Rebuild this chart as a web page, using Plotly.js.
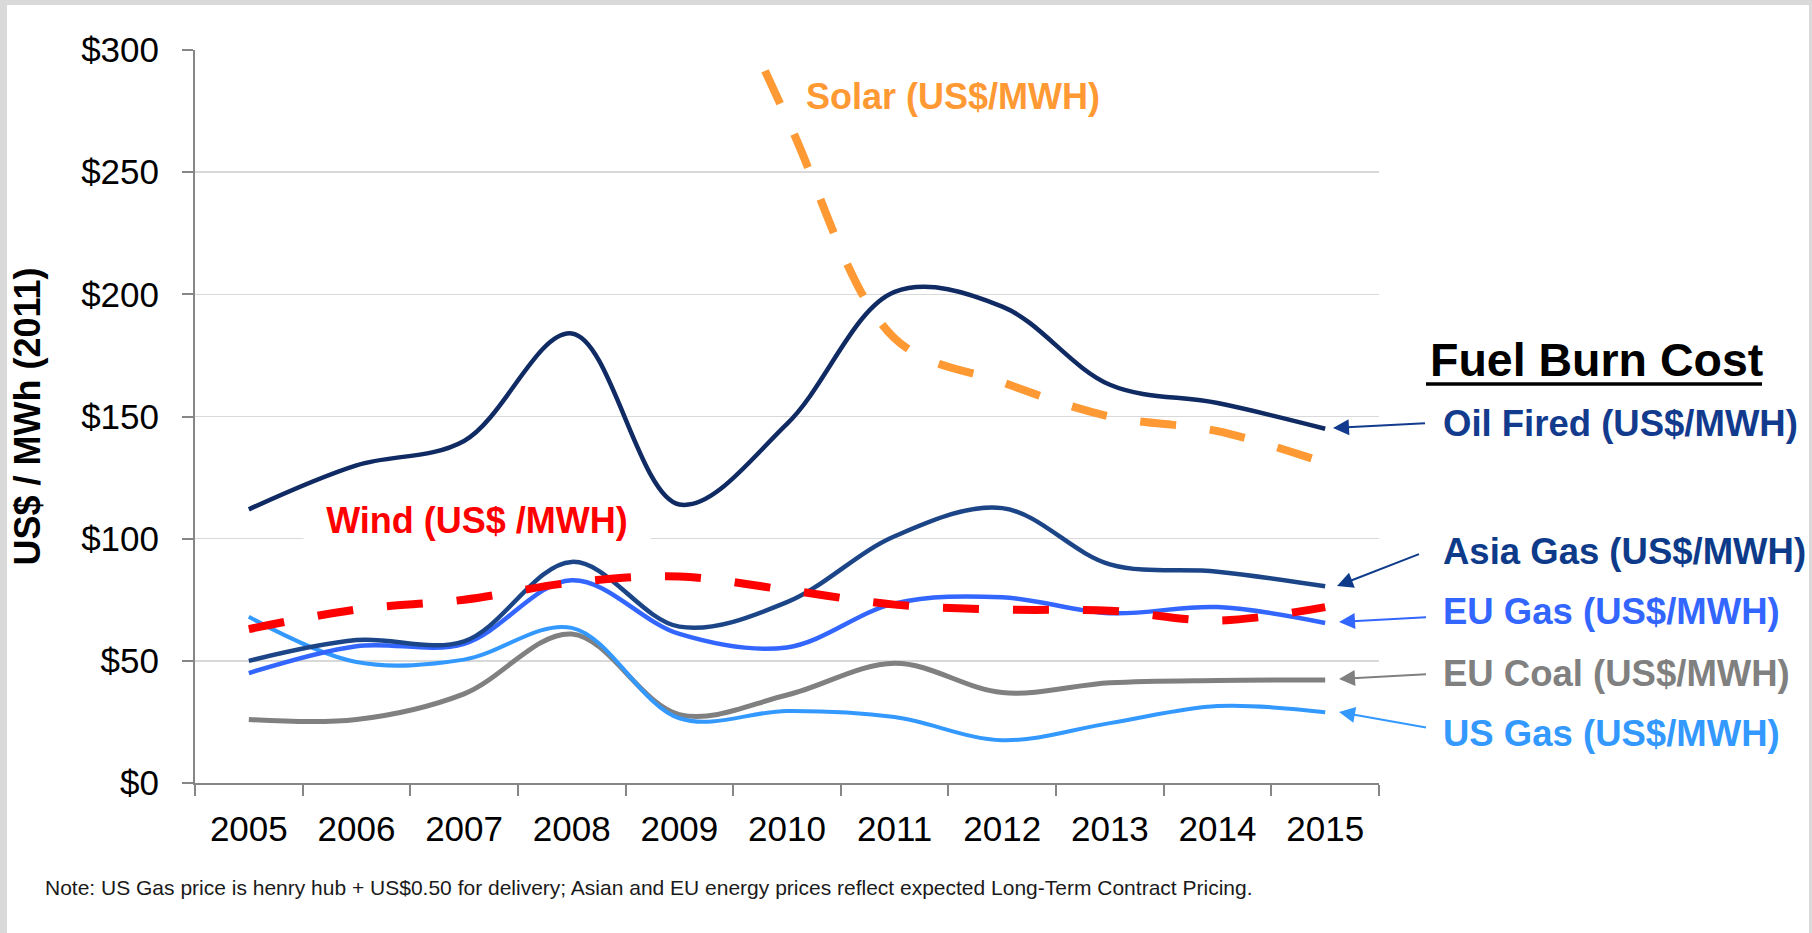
<!DOCTYPE html>
<html>
<head>
<meta charset="utf-8">
<script src="https://cdn.plot.ly/plotly-3.0.1.min.js"></script>
<style>
html,body{margin:0;padding:0;background:#d9d9d9;width:1812px;height:933px;overflow:hidden;}
#chart{position:absolute;left:7px;top:5px;width:1802px;height:928px;background:#ffffff;}
</style>
</head>
<body>
<div id="chart"></div>
<script>
// ---- data ----
const years = ['2005','2006','2007','2008','2009','2010','2011','2012','2013','2014','2015'];
const oilFired = [112, 130, 140, 184, 114, 147, 201, 195, 163, 155.5, 145];
const asiaGas  = [50, 58.5, 58, 90.5, 64, 74, 101, 112.5, 89.5, 86.5, 80.5];
const euGas    = [45, 56, 57, 83, 61, 55.5, 73.5, 76, 69.5, 72, 65.5];
const euCoal   = [26, 26, 36.5, 61, 28, 36, 49, 37, 41, 42, 42.2];
const usGas    = [68, 49.5, 50.5, 63.5, 26.5, 29.5, 27, 17.5, 24.5, 31.5, 29];
const wind     = [63, 71, 75, 82, 84.5, 79, 73, 71, 70.5, 66.5, 72];
const solar    = [null, null, null, null, 370, 272, 182, 164, 150, 144, 131];

const yTickVals   = [0, 50, 100, 150, 200, 250, 300];
const yTickLabels = ['$0', '$50', '$100', '$150', '$200', '$250', '$300'];

const seriesNames = {
  oil: 'Oil Fired (US$/MWH)', asia: 'Asia Gas (US$/MWH)', euGas: 'EU Gas (US$/MWH)',
  coal: 'EU Coal (US$/MWH)', us: 'US Gas (US$/MWH)', wind: 'Wind (US$ /MWH)', solar: 'Solar (US$/MWH)'
};
const legendTitle = 'Fuel Burn Cost';
const yTitle = 'US$ / MWh (2011)';
const noteText = 'Note: US Gas price is henry hub + US$0.50 for delivery; Asian and EU energy prices reflect expected Long-Term Contract Pricing.';

// ---- layout helpers (pixel position -> paper coords) ----
const OX = 7, OY = 5, ML = 188, MT = 45, PW = 1184, PH = 733;
const W = 1802, H = 928;
function px(x){ return (x - OX - ML) / PW; }
function py(y){ return (MT + PH - (y - OY)) / PH; }

const FONT = 'Liberation Sans, Arial, Helvetica, sans-serif';
const C = {
  oil: '#102a63', asia: '#1c4587', euGas: '#3366ff', coal: '#808080', us: '#3399ff',
  wind: '#ff0000', solar: '#ff9933', oilLbl: '#123b8e', asiaLbl: '#0d3b8a'
};

function line(y, name, color, width, dash){
  return {
    type: 'scatter', mode: 'lines', x: years, y: y, name: name,
    line: {color: color, width: width, shape: 'spline', smoothing: 1, dash: dash || 'solid'},
    connectgaps: false, hoverinfo: 'x+y+name'
  };
}

const traces = [
  line(euCoal, seriesNames.coal, C.coal, 5),
  line(usGas, seriesNames.us, C.us, 4),
  line(euGas, seriesNames.euGas, C.euGas, 4.5),
  line(asiaGas, seriesNames.asia, C.asia, 4.5),
  line(oilFired, seriesNames.oil, C.oil, 4.5),
  line(solar, seriesNames.solar, C.solar, 8, '36px,34px'),
  line(wind, seriesNames.wind, C.wind, 8, '36px,34px')
];

function label(text, xLeft, yMid, color, size){
  return {xref:'paper', yref:'paper', x: px(xLeft), y: py(yMid), xanchor:'left', yanchor:'middle',
    text: '<b>' + text + '</b>', showarrow:false, font:{family:FONT, size:size, color:color}};
}
function arrow(tail, head, color){
  return {xref:'paper', yref:'paper', x: px(head[0]), y: py(head[1]),
    ax: tail[0]-head[0], ay: tail[1]-head[1], axref:'pixel', ayref:'pixel',
    text:' ', showarrow:true, arrowhead:2, arrowsize:1.6, arrowwidth:2, arrowcolor:color, standoff:0, startstandoff:0};
}

const annotations = [
  {xref:'paper', yref:'paper', x: px(953), y: py(96), xanchor:'center', yanchor:'middle',
   text:'<b>' + seriesNames.solar + '</b>', showarrow:false, font:{family:FONT, size:36, color:C.solar}},
  {xref:'paper', yref:'paper', x: px(477), y: py(520), xanchor:'center', yanchor:'middle',
   text:'<b>' + seriesNames.wind + '</b>', showarrow:false, bgcolor:'#ffffff', borderpad:8, width:330, height:46,
   font:{family:FONT, size:36, color:C.wind}},
  label(legendTitle, 1428, 360, '#000000', 46.5),
  label(seriesNames.oil, 1441, 423, C.oilLbl, 36.5),
  label(seriesNames.asia, 1441, 551, C.asiaLbl, 36.5),
  label(seriesNames.euGas, 1441, 611, C.euGas, 36.5),
  label(seriesNames.coal, 1441, 673, C.coal, 36.5),
  label(seriesNames.us, 1441, 733, C.us, 36.5),
  arrow([1428, 423], [1333, 428], C.oilLbl),
  arrow([1422, 553], [1337, 586], C.asiaLbl),
  arrow([1429, 617], [1339, 622], C.euGas),
  arrow([1429, 674], [1339, 679], C.coal),
  arrow([1429, 728], [1339, 712], C.us),
  {xref:'paper', yref:'paper', x: px(43), y: py(887), xanchor:'left', yanchor:'middle',
   text: noteText, showarrow:false, font:{family:FONT, size:21, color:'#1a1a1a'}}
];

const shapes = [
  {type:'line', xref:'paper', yref:'paper', x0: px(1426), x1: px(1762), y0: py(384), y1: py(384),
   line:{color:'#000000', width:3.5}}
];

const layout = {
  width: W, height: H,
  margin: {l: ML, r: W - ML - PW, t: MT, b: H - MT - PH, pad: 0},
  paper_bgcolor: '#ffffff', plot_bgcolor: '#ffffff',
  showlegend: false,
  font: {family: FONT, color: '#000000'},
  xaxis: {
    type: 'category', range: [-0.5, 10.5], tickson: 'boundaries',
    ticks: 'outside', ticklen: 11, tickwidth: 2, tickcolor: '#868686',
    showline: true, linecolor: '#868686', linewidth: 2, showgrid: false, zeroline: false,
    tickfont: {family: FONT, size: 35, color: '#000000'}, ticklabelstandoff: 14
  },
  yaxis: {
    range: [0, 300], tickvals: yTickVals, ticktext: yTickLabels,
    ticks: 'outside', ticklen: 11, tickwidth: 2, tickcolor: '#868686',
    showline: true, linecolor: '#868686', linewidth: 2,
    showgrid: true, gridcolor: '#d9d9d9', gridwidth: 1.5, zeroline: false,
    tickfont: {family: FONT, size: 35, color: '#000000'}, ticklabelstandoff: 16,
    title: {text: '<b>' + yTitle + '</b>', font: {family: FONT, size: 36, color: '#000000'}, standoff: 38}
  },
  annotations: annotations,
  shapes: shapes
};

Plotly.newPlot('chart', traces, layout, {staticPlot: true, displayModeBar: false});
</script>
</body>
</html>
